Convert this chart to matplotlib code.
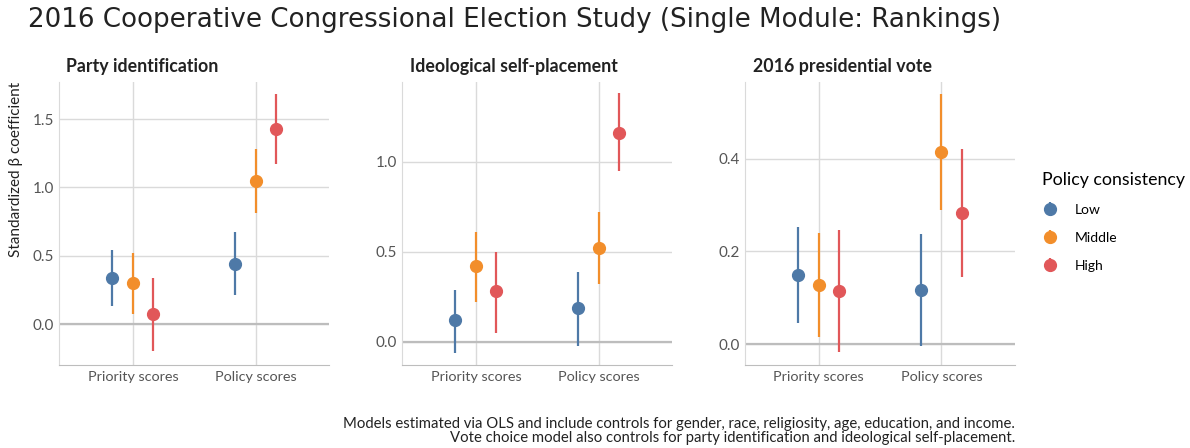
import numpy as np
import matplotlib
matplotlib.use('Agg')
import matplotlib.pyplot as plt

# data
panels = ['Party identification', 'Ideological self-placement', '2016 presidential vote']
categories = ['Priority scores', 'Policy scores']
groups = ['Low', 'Middle', 'High']
colors = ['#4E79A7', '#F28E2B', '#E15759']

# estimates [group][category]
party_est = [[0.34, 0.44], [0.30, 1.05], [0.07, 1.43]]
party_lo = [[0.13, 0.21], [0.07, 0.81], [-0.20, 1.17]]
party_hi = [[0.54, 0.67], [0.52, 1.28], [0.34, 1.68]]

ideo_est = [[0.12, 0.19], [0.42, 0.52], [0.28, 1.16]]
ideo_lo = [[-0.06, -0.02], [0.22, 0.32], [0.05, 0.95]]
ideo_hi = [[0.29, 0.39], [0.61, 0.72], [0.50, 1.38]]

vote_est = [[0.149, 0.117], [0.127, 0.414], [0.115, 0.282]]
vote_lo = [[0.046, -0.003], [0.016, 0.289], [-0.017, 0.145]]
vote_hi = [[0.252, 0.237], [0.239, 0.539], [0.246, 0.420]]

panel_data = [(party_est, party_lo, party_hi),
              (ideo_est, ideo_lo, ideo_hi),
              (vote_est, vote_lo, vote_hi)]
yticks = [[0.0, 0.5, 1.0, 1.5], [0.0, 0.5, 1.0], [0.0, 0.2, 0.4]]
ylims = [(-0.30, 1.773), (-0.128, 1.444), (-0.045, 0.566)]

plt.rcParams['font.family'] = ['Lato', 'DejaVu Sans']

fig = plt.figure(figsize=(11.9, 4.48), dpi=100)
lefts = [59.3, 402.3, 745.0]
W, H = 1190, 448

handles = []
for p, name in enumerate(panels):
    ax = fig.add_axes([lefts[p] / W, 1 - 365 / H, 270 / W, (365 - 81.7) / H])
    est, lo, hi = panel_data[p]
    x = np.arange(1, len(categories) + 1)
    for g in range(len(groups)):
        xs = x + (g - 1) * 0.167
        e = np.array(est[g])
        yerr = [e - np.array(lo[g]), np.array(hi[g]) - e]
        h = ax.errorbar(xs, e, yerr=yerr, fmt='o', color=colors[g], ms=8.5,
                        elinewidth=1.6, capsize=0, label=groups[g], zorder=3)
        if p == 0:
            handles.append(h)
    ax.axhline(0, color='#bdbdbd', lw=1.6, zorder=1)
    ax.set_xlim(0.4, 2.6)
    ax.set_ylim(*ylims[p])
    ax.set_xticks(x)
    ax.set_xticklabels(categories)
    ax.set_yticks(yticks[p])
    ax.set_yticklabels(['%.1f' % t for t in yticks[p]])
    ax.grid(True, color='#dadada', lw=1.0, zorder=0)
    ax.set_axisbelow(True)
    ax.tick_params(length=0, labelcolor='#555555', pad=4)
    ax.tick_params(axis='x', labelsize=10.4)
    ax.tick_params(axis='y', labelsize=11)
    for s in ['top', 'right']:
        ax.spines[s].set_visible(False)
    ax.spines['left'].set_color('#dadada')
    ax.spines['bottom'].set_color('#bdbdbd')
    ax.set_title(name, loc='left', fontsize=12.8, fontweight='bold', color='#222222', pad=7,
                 x=0.025 if p == 0 else 0.03)
    if p == 0:
        ax.set_ylabel('Standardized β coefficient', fontsize=11, color='#222222')
        ax.yaxis.set_label_coords(-0.134, 0.69)

fig.text(28 / W, 1 - 20 / H, '2016 Cooperative Congressional Election Study (Single Module: Rankings)',
         fontsize=18.8, family='DejaVu Sans', va='center', ha='left', color='#222222')

leg = fig.legend(handles=handles, labels=groups, title='Policy consistency',
                 loc='upper left', bbox_to_anchor=(1029 / W, 1 - 159 / H), frameon=False,
                 fontsize=10, title_fontsize=12.8, handlelength=1.2, handletextpad=1.2,
                 labelspacing=1.17, alignment='left')

fig.text(1015 / W, 1 - 431 / H,
         'Models estimated via OLS and include controls for gender, race, religiosity, age, education, and income.\n'
         'Vote choice model also controls for party identification and ideological self-placement.',
         fontsize=10.7, ha='right', va='center', multialignment='right', color='#222222', linespacing=1.05)

fig.savefig('out.png', dpi=100)
